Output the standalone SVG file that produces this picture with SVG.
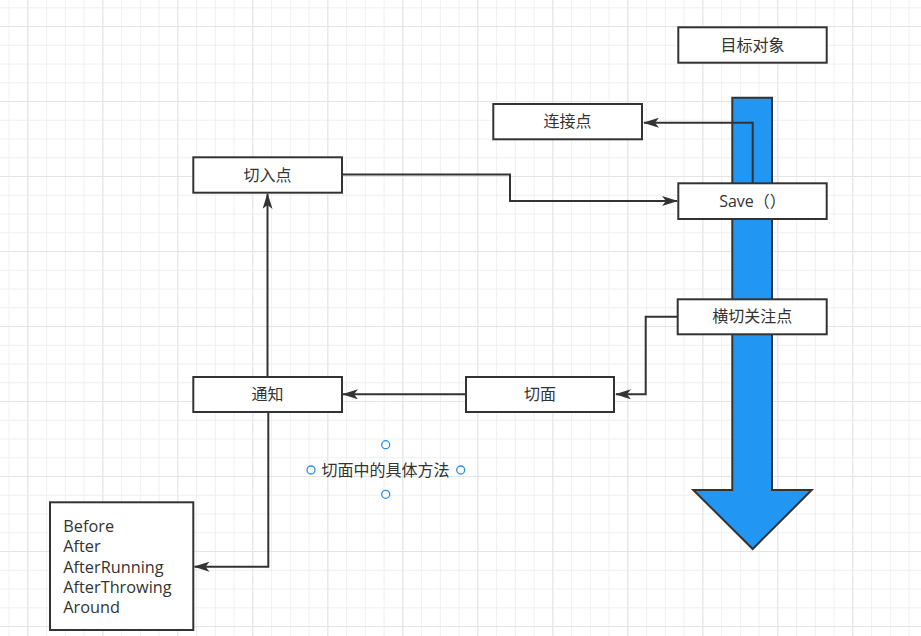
<svg xmlns="http://www.w3.org/2000/svg" width="921" height="636" viewBox="0 0 921 636">
<defs>
<pattern id="minor" patternUnits="userSpaceOnUse" x="8.6" y="7.3" width="18.75" height="18.75">
<path d="M0.5 0V18.75M0 0.5H18.75" stroke="#f0f0f0" stroke-width="1" fill="none"/>
</pattern>
<pattern id="major" patternUnits="userSpaceOnUse" x="27.3" y="26" width="75" height="75">
<path d="M0.5 0V75M0 0.5H75" stroke="#e4e4e4" stroke-width="1" fill="none"/>
</pattern>
<marker id="arr" viewBox="0 0 16 10" refX="15" refY="5" markerWidth="16" markerHeight="10" markerUnits="userSpaceOnUse" orient="auto">
<path d="M0 0L16 5L0 10L4 5Z" fill="#333"/>
</marker>
</defs>
<style>
.box{fill:#fff;stroke:#333;stroke-width:2}
.lbl{font-family:"Open Sans","Noto Sans CJK SC",sans-serif;font-size:16px;fill:#333;text-anchor:middle}
.txt{font-family:"Open Sans","Noto Sans CJK SC",sans-serif;font-size:16.3px;fill:#333}
.conn{fill:none;stroke:#333;stroke-width:2}
.h{fill:#fff;stroke:#2b8ef0;stroke-width:1.3}
</style>
<rect width="921" height="636" fill="#fff"/>
<rect width="921" height="636" fill="url(#minor)"/>
<rect width="921" height="636" fill="url(#major)"/>

<g id="flow-arrow">
<polygon points="732.3,97.7 772,97.7 772,490 811.7,490 752.7,549 693.3,490 732.3,490" fill="#2196F3" stroke="#333" stroke-width="2" stroke-linejoin="miter"/>
</g>

<g id="connectors">
<path class="conn" d="M752.7 183.5V122.7H644" marker-end="url(#arr)"/>
<path class="conn" d="M342 174.5H510V201H677" marker-end="url(#arr)"/>
<path class="conn" d="M678 316.7H645.7V394.3H616" marker-end="url(#arr)"/>
<path class="conn" d="M466 394.3H343" marker-end="url(#arr)"/>
<path class="conn" d="M267.5 377V194" marker-end="url(#arr)"/>
<path class="conn" d="M268.3 412V566.7H194.5" marker-end="url(#arr)"/>
</g>

<g id="target">
<rect class="box" x="678.3" y="27.3" width="148.4" height="35.4"/>
<text class="lbl" x="752.5" y="50.5">目标对象</text>
</g>
<g id="joinpoint">
<rect class="box" x="493.3" y="104" width="148.7" height="35.3"/>
<text class="lbl" x="567.6" y="127.3">连接点</text>
</g>
<g id="save">
<rect class="box" x="678.3" y="183.3" width="148.4" height="35.7"/>
<text class="lbl" x="752.5" y="206.8">Save（）</text>
</g>
<g id="pointcut">
<rect class="box" x="193.3" y="157.3" width="148.7" height="35.4"/>
<text class="lbl" x="267.6" y="180.6">切入点</text>
</g>
<g id="crosscut">
<rect class="box" x="677.7" y="299.3" width="149" height="35"/>
<text class="lbl" x="752.2" y="322.4">横切关注点</text>
</g>
<g id="aspect">
<rect class="box" x="466" y="377" width="148" height="35"/>
<text class="lbl" x="540" y="400.2">切面</text>
</g>
<g id="advice">
<rect class="box" x="193.3" y="377" width="148.7" height="35"/>
<text class="lbl" x="267.6" y="400.2">通知</text>
</g>
<g id="advice-types">
<rect class="box" x="50" y="502.3" width="143.3" height="127.7"/>
<text class="txt" x="63.3" y="531.7">Before</text>
<text class="txt" x="63.3" y="552.1">After</text>
<text class="txt" x="63.3" y="572.5">AfterRunning</text>
<text class="txt" x="63.3" y="592.9">AfterThrowing</text>
<text class="txt" x="63.3" y="613.3">Around</text>
</g>
<g id="method-label">
<text class="lbl" x="385.5" y="475.5">切面中的具体方法</text>
<circle class="h" cx="385.7" cy="444.7" r="4"/>
<circle class="h" cx="311" cy="470" r="4"/>
<circle class="h" cx="460.7" cy="470" r="4"/>
<circle class="h" cx="385.7" cy="494.3" r="4"/>
</g>
</svg>
